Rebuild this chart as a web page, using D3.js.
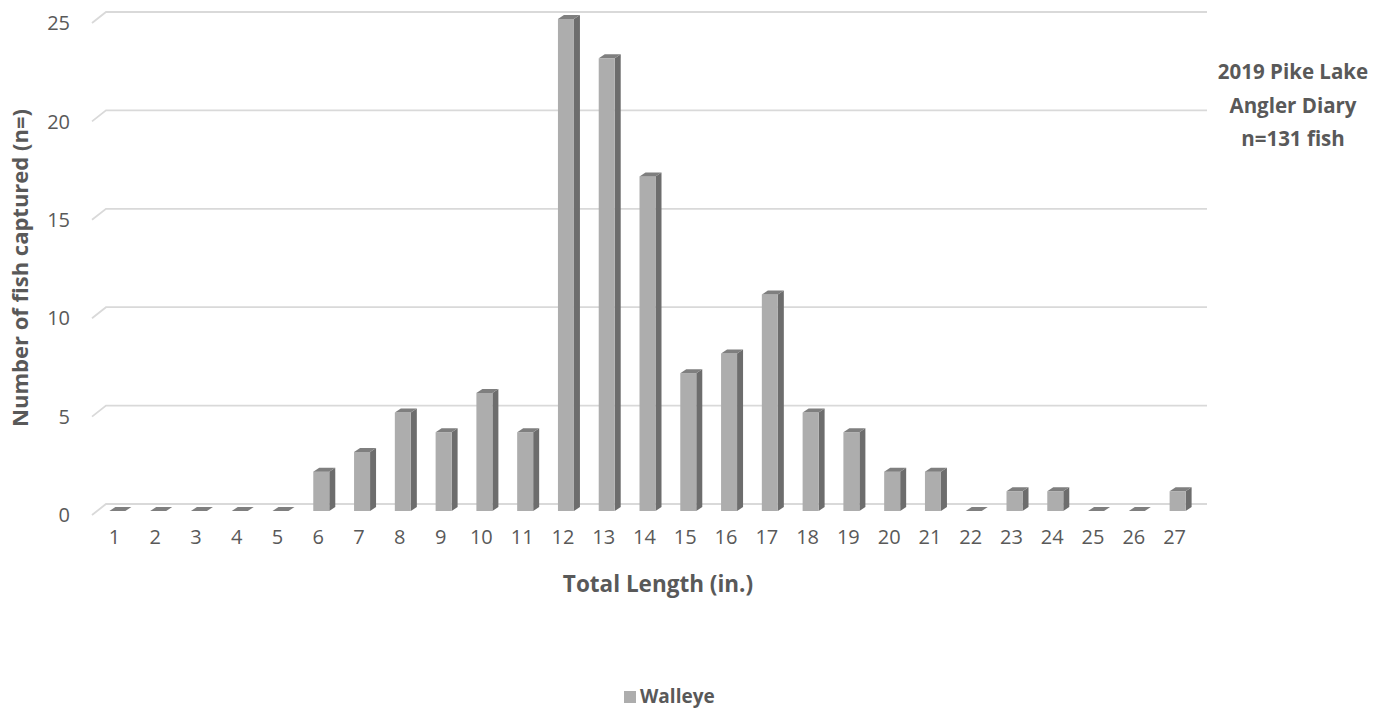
<!DOCTYPE html>
<html>
<head>
<meta charset="utf-8">
<script src="https://cdn.jsdelivr.net/npm/d3@7"></script>
<style>
  html, body { margin: 0; padding: 0; background: #ffffff; }
  svg { display: block; font-family: "Open Sans", "Liberation Sans", sans-serif; }
</style>
</head>
<body>
<svg id="chart" width="1383" height="709"></svg>
<script>
// Walleye length-frequency, Pike Lake angler diary 2019
const lengths = ["1","2","3","4","5","6","7","8","9","10","11","12","13","14","15","16","17","18","19","20","21","22","23","24","25","26","27"];
const walleyeCounts = [0,0,0,0,0,2,3,5,4,6,4,25,23,17,7,8,11,5,4,2,2,0,1,1,0,0,1];
const yTicks = [0,5,10,15,20,25];
const seriesName = "Walleye";
const titleLines = ["2019 Pike Lake", "Angler Diary", "n=131 fish"];

const svg = d3.select("#chart");
const textColor = "#595959";

// Back wall of the 3-D plot area
const wallLeft = 106, wallRight = 1207;
const floorBack = 504, topBack = 12;
const sideDx = -14, sideDy = 11;     // side wall / floor depth
const barShiftY = 7;                 // bars sit half-way into the floor
const barDepthX = 6, barDepthY = -4; // visible depth of each column
const barWidth = 16;

const x = d3.scaleBand().domain(lengths).range([wallLeft, wallRight]);
const yBack = d3.scaleLinear().domain([0, 25]).range([floorBack, topBack]);

// Gridlines on the back wall with their slanted side-wall segments
const grid = svg.append("g").attr("fill", "none").attr("stroke", "#d9d9d9").attr("stroke-width", 1.8);
grid.selectAll("path").data(yTicks).join("path")
  .attr("d", v => {
    const yy = yBack(v);
    return `M${wallLeft + sideDx},${yy + sideDy}L${wallLeft},${yy}L${wallRight},${yy}`;
  });

// Value-axis labels
svg.append("g").selectAll("text").data(yTicks).join("text")
  .attr("x", 70)
  .attr("y", v => yBack(v) + sideDy)
  .attr("dy", "0.36em")
  .attr("text-anchor", "end")
  .attr("font-size", 20)
  .attr("fill", textColor)
  .text(d => d);

// Columns: side, front and top faces
const bars = svg.append("g").selectAll("g").data(lengths.map((c, i) => ({ c, v: walleyeCounts[i] }))).join("g");
const fx = d => x(d.c) + x.bandwidth() / 2 - 9 - barWidth / 2;
const fBase = floorBack + barShiftY;
const fTop = d => yBack(d.v) + barShiftY;

bars.append("path")
  .attr("fill", "#6d6d6d")
  .attr("d", d => {
    const x0 = fx(d) + barWidth;
    return `M${x0},${fBase}L${x0 + barDepthX},${fBase + barDepthY}L${x0 + barDepthX},${fTop(d) + barDepthY}L${x0},${fTop(d)}Z`;
  });
bars.append("rect")
  .attr("fill", "#adadad")
  .attr("x", d => fx(d))
  .attr("y", d => fTop(d))
  .attr("width", barWidth)
  .attr("height", d => fBase - fTop(d));
bars.append("path")
  .attr("fill", "#7f7f7f")
  .attr("d", d => {
    const x0 = fx(d), t = fTop(d);
    return `M${x0},${t}L${x0 + barDepthX},${t + barDepthY}L${x0 + barWidth + barDepthX},${t + barDepthY}L${x0 + barWidth},${t}Z`;
  });

// Category labels
svg.append("g").selectAll("text").data(lengths).join("text")
  .attr("x", c => x(c) + x.bandwidth() / 2 - 12)
  .attr("y", 537)
  .attr("dy", "0.36em")
  .attr("text-anchor", "middle")
  .attr("font-size", 20)
  .attr("fill", textColor)
  .text(c => c);

// Axis titles
svg.append("text")
  .attr("transform", "translate(20,268) rotate(-90)")
  .attr("dy", "0.35em")
  .attr("text-anchor", "middle")
  .attr("font-size", 22)
  .attr("font-weight", "bold")
  .attr("fill", textColor)
  .text("Number of fish captured (n=)");

svg.append("text")
  .attr("x", 658)
  .attr("y", 584)
  .attr("dy", "0.35em")
  .attr("text-anchor", "middle")
  .attr("font-size", 22.5)
  .attr("font-weight", "bold")
  .attr("fill", textColor)
  .text("Total Length (in.)");

// Chart title block at the right
svg.append("g").selectAll("text").data(titleLines).join("text")
  .attr("x", 1293)
  .attr("y", (d, i) => 72 + i * 33.5)
  .attr("dy", "0.35em")
  .attr("text-anchor", "middle")
  .attr("font-size", 20.5)
  .attr("font-weight", "bold")
  .attr("fill", textColor)
  .text(d => d);

// Legend
const legend = svg.append("g");
legend.append("rect")
  .attr("x", 624).attr("y", 691).attr("width", 12).attr("height", 12)
  .attr("fill", "#adadad");
legend.append("text")
  .attr("x", 640).attr("y", 696)
  .attr("dy", "0.35em")
  .attr("font-size", 19)
  .attr("font-weight", "bold")
  .attr("fill", textColor)
  .text(seriesName);
</script>
</body>
</html>
